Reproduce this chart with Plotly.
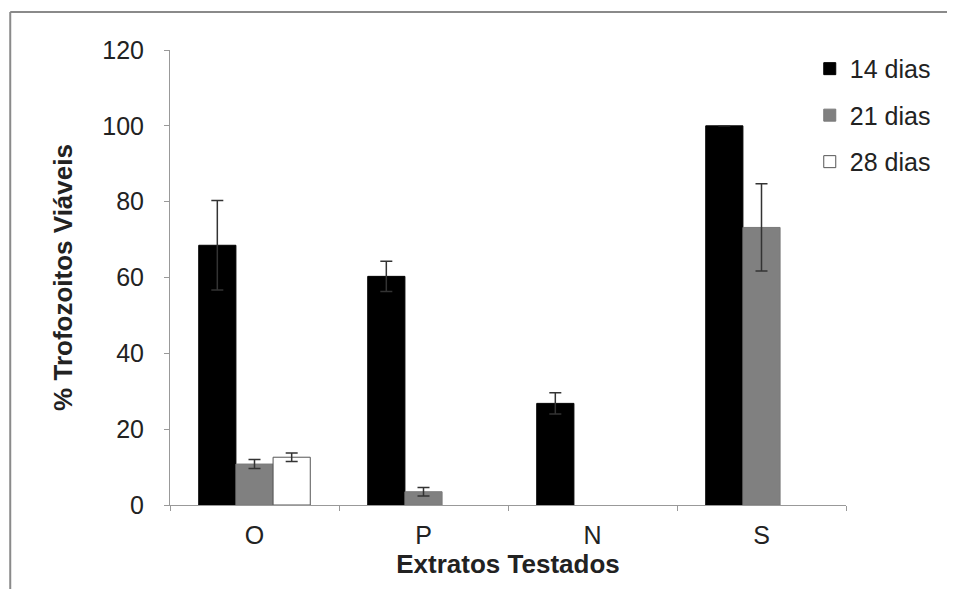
import plotly.graph_objects as go

categories = ["O", "P", "N", "S"]
series_names = ["14 dias", "21 dias", "28 dias"]
values_14 = [68.5, 60.3, 26.8, 100.0]
err_14 = [11.8, 4.0, 2.8, None]
values_21 = [10.8, 3.5, None, 73.2]
err_21 = [1.2, 1.1, None, 11.5]
values_28 = [12.6, None, None, None]
err_28 = [1.1, None, None, None]
y_ticks = [0, 20, 40, 60, 80, 100, 120]

FONT = "Liberation Sans, Arial, sans-serif"

fig = go.Figure()
specs = [
    (series_names[0], values_14, err_14, "#000000", "#000000"),
    (series_names[1], values_21, err_21, "#808080", "#7a7a7a"),
    (series_names[2], values_28, err_28, "#ffffff", "#555555"),
]
for name, vals, errs, fill, line in specs:
    fig.add_trace(go.Bar(
        x=categories, y=vals, name=name, legendgroup=name,
        marker=dict(color=fill, line=dict(color=line, width=1)),
        error_y=dict(type="data", array=errs, visible=True,
                     color="#333333", thickness=1.5, width=6),
    ))

# page body has an 8px margin, so the figure is shrunk/offset to keep the
# plot area at x 170..847, y 50..505 of the window
fig.update_layout(
    width=939, height=581,
    margin=dict(l=162, r=100, t=42, b=84),
    paper_bgcolor="white", plot_bgcolor="white",
    barmode="group", bargap=0.34, bargroupgap=0,
    font=dict(family=FONT, size=25, color="#222222"),
    showlegend=True,
    legend=dict(x=0.945, y=1.009, xanchor="left", yanchor="top",
                font=dict(family=FONT, size=25, color="#222222"),
                tracegroupgap=11, itemwidth=30, bgcolor="rgba(0,0,0,0)"),
)
fig.update_xaxes(
    showline=True, linecolor="#999999", linewidth=1,
    ticks="outside", tickson="boundaries", ticklen=5, tickcolor="#999999",
    ticklabelstandoff=8,
    tickfont=dict(family=FONT, size=25, color="#222222"),
    title=dict(text="<b>Extratos Testados</b>", standoff=2,
               font=dict(family=FONT, size=26, color="#222222")),
    showgrid=False,
)
fig.update_yaxes(
    range=[0, 120], tickvals=y_ticks,
    showline=True, linecolor="#999999", linewidth=1,
    ticks="outside", ticklen=5, tickcolor="#999999",
    ticklabelstandoff=15,
    tickfont=dict(family=FONT, size=25, color="#222222"),
    title=dict(text="<b>% Trofozoitos Viáveis</b>", standoff=22,
               font=dict(family=FONT, size=26, color="#222222")),
    showgrid=False, zeroline=False,
)
# outer chart frame: only its left and top edges are visible in the picture
frame_left = (10 - 170) / 677
frame_top = (505 - 12) / 455
fig.add_shape(type="line", xref="paper", yref="paper",
              x0=frame_left, x1=frame_left, y0=-0.6, y1=frame_top,
              line=dict(color="#8a8a8a", width=2), layer="below")
fig.add_shape(type="line", xref="paper", yref="paper",
              x0=frame_left, x1=1.5, y0=frame_top, y1=frame_top,
              line=dict(color="#8a8a8a", width=2), layer="below")

fig.write_html("out.html")
